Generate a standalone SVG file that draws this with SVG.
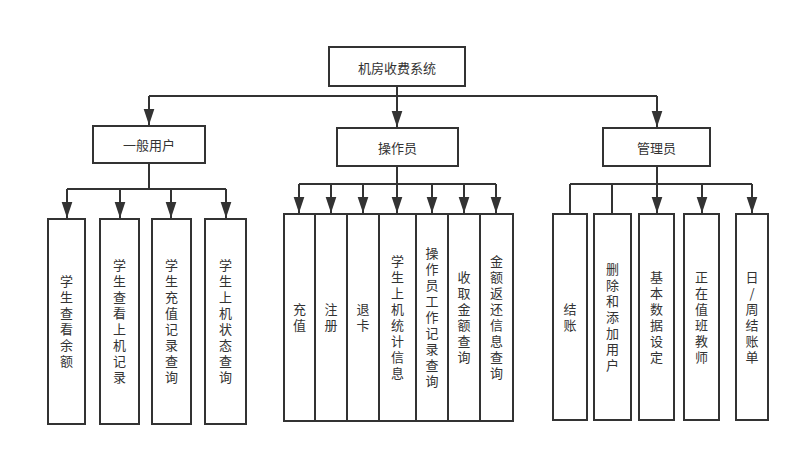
<svg xmlns="http://www.w3.org/2000/svg" width="800" height="457" viewBox="0 0 800 457">
<style>
.box{fill:#fff;stroke:#333;stroke-width:2}
.t{font-family:"Noto Sans CJK SC","Noto Sans",sans-serif;font-size:13px;fill:#333;text-anchor:middle;dominant-baseline:central}
.v{font-family:"Noto Sans CJK SC","Noto Sans",sans-serif;font-size:13px;fill:#333;text-anchor:middle;writing-mode:vertical-rl;text-orientation:upright;letter-spacing:3px}
.c{fill:none;stroke:#333;stroke-width:2}
</style>
<defs>
<marker id="arr" markerUnits="userSpaceOnUse" markerWidth="16" markerHeight="12" refX="15" refY="5" orient="auto" viewBox="0 0 15 10">
<path d="M0,0 L15,5 L0,10 Z" fill="#333"/>
</marker>
</defs>
<rect width="800" height="457" fill="#fff"/>
<g id="connectors">
<path class="c" d="M397,86 V96"/>
<path class="c" d="M149,96 H657"/>
<path class="c" d="M149,96 V125" marker-end="url(#arr)"/>
<path class="c" d="M397,96 V127" marker-end="url(#arr)"/>
<path class="c" d="M657,96 V127" marker-end="url(#arr)"/>
<path class="c" d="M149,163 V189"/>
<path class="c" d="M67,189 H226"/>
<path class="c" d="M67,189 V218" marker-end="url(#arr)"/>
<path class="c" d="M120,189 V218" marker-end="url(#arr)"/>
<path class="c" d="M171,189 V218" marker-end="url(#arr)"/>
<path class="c" d="M226,189 V218" marker-end="url(#arr)"/>
<path class="c" d="M397,166 V184"/>
<path class="c" d="M299,184 H496"/>
<path class="c" d="M299,184 V213" marker-end="url(#arr)"/>
<path class="c" d="M331,184 V213" marker-end="url(#arr)"/>
<path class="c" d="M363,184 V213" marker-end="url(#arr)"/>
<path class="c" d="M397,184 V213" marker-end="url(#arr)"/>
<path class="c" d="M432,184 V213" marker-end="url(#arr)"/>
<path class="c" d="M464,184 V213" marker-end="url(#arr)"/>
<path class="c" d="M496,184 V213" marker-end="url(#arr)"/>
<path class="c" d="M657,166 V184"/>
<path class="c" d="M570,184 H752"/>
<path class="c" d="M570,184 V214"/>
<path class="c" d="M612,184 V214"/>
<path class="c" d="M657,184 V213" marker-end="url(#arr)"/>
<path class="c" d="M702,184 V213" marker-end="url(#arr)"/>
<path class="c" d="M752,184 V213" marker-end="url(#arr)"/>
</g>
<g id="root"><rect class="box" x="329" y="47" width="136" height="39"/><text class="t" x="397" y="67">机房收费系统</text></g>
<g id="user"><rect class="box" x="93" y="126" width="112" height="37"/><text class="t" x="149" y="144.5">一般用户</text></g>
<g id="operator"><rect class="box" x="337" y="128" width="121" height="38"/><text class="t" x="397.5" y="147">操作员</text></g>
<g id="admin"><rect class="box" x="603" y="128" width="107" height="38"/><text class="t" x="656.5" y="147">管理员</text></g>

<g id="u1"><rect class="box" x="48" y="219" width="37" height="205"/><text class="v" x="66.5" y="323">学生查看余额</text></g>
<g id="u2"><rect class="box" x="100" y="219" width="39" height="205"/><text class="v" x="119.5" y="323">学生查看上机记录</text></g>
<g id="u3"><rect class="box" x="152" y="219" width="39" height="205"/><text class="v" x="171.5" y="323">学生充值记录查询</text></g>
<g id="u4"><rect class="box" x="205" y="219" width="41" height="205"/><text class="v" x="225.5" y="323">学生上机状态查询</text></g>

<g id="o1"><rect class="box" x="284" y="214" width="31" height="207"/><text class="v" x="299.5" y="319">充值</text></g>
<g id="o2"><rect class="box" x="315" y="214" width="32" height="207"/><text class="v" x="331" y="319">注册</text></g>
<g id="o3"><rect class="box" x="347" y="214" width="32" height="207"/><text class="v" x="363" y="319">退卡</text></g>
<g id="o4"><rect class="box" x="379" y="214" width="37" height="207"/><text class="v" x="397.5" y="319">学生上机统计信息</text></g>
<g id="o5"><rect class="box" x="416" y="214" width="32" height="207"/><text class="v" x="432" y="319">操作员工作记录查询</text></g>
<g id="o6"><rect class="box" x="448" y="214" width="32" height="207"/><text class="v" x="464" y="319">收取金额查询</text></g>
<g id="o7"><rect class="box" x="480" y="214" width="33" height="207"/><text class="v" x="496.5" y="319">金额返还信息查询</text></g>

<g id="a1"><rect class="box" x="553" y="214" width="34" height="206"/><text class="v" x="570" y="318.5">结账</text></g>
<g id="a2"><rect class="box" x="594" y="214" width="37" height="206"/><text class="v" x="612.5" y="318.5">删除和添加用户</text></g>
<g id="a3"><rect class="box" x="639" y="214" width="35" height="206"/><text class="v" x="656.5" y="318.5">基本数据设定</text></g>
<g id="a4"><rect class="box" x="684" y="214" width="35" height="206"/><text class="v" x="701.5" y="318.5">正在值班教师</text></g>
<g id="a5"><rect class="box" x="736" y="214" width="32" height="206"/><text class="v" x="752" y="318.5">日/周结账单</text></g>
</svg>
